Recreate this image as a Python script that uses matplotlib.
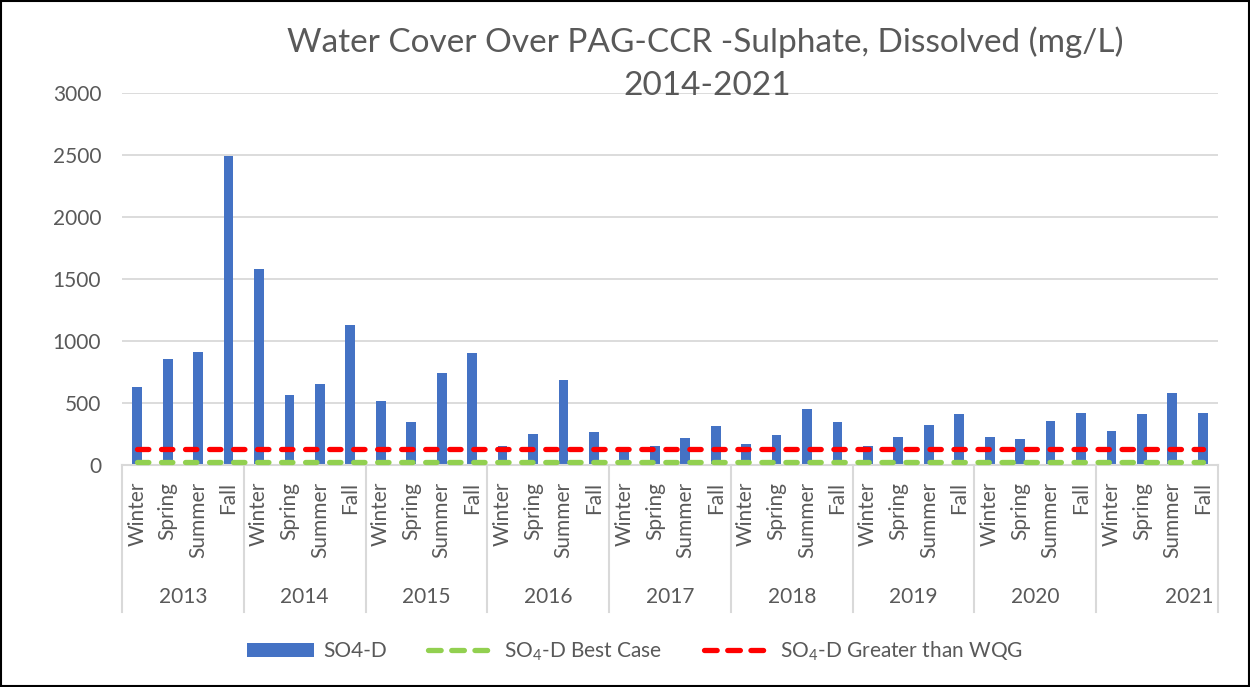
import numpy as np
import matplotlib
matplotlib.use("Agg")
import matplotlib.pyplot as plt
from matplotlib.lines import Line2D
from matplotlib.patches import Patch, Rectangle
import matplotlib.transforms as mtransforms

plt.rcParams['font.family'] = ['Lato', 'DejaVu Sans']
plt.rcParams['mathtext.default'] = 'regular'

years = ['2013', '2014', '2015', '2016', '2017', '2018', '2019', '2020', '2021']
seasons = ['Winter', 'Spring', 'Summer', 'Fall']

# SO4-D dissolved, mg/L (Winter, Spring, Summer, Fall)
so4_2013 = [632, 855, 911, 2490]
so4_2014 = [1580, 565, 651, 1129]
so4_2015 = [516, 344, 742, 903]
so4_2016 = [153, 250, 685, 264]
so4_2017 = [110, 153, 218, 312]
so4_2018 = [169, 242, 449, 344]
so4_2019 = [153, 223, 323, 411]
so4_2020 = [229, 210, 355, 419]
so4_2021 = [271, 411, 583, 417]
so4 = so4_2013 + so4_2014 + so4_2015 + so4_2016 + so4_2017 + so4_2018 + so4_2019 + so4_2020 + so4_2021

best_case = [21] * 36
wqg = [128] * 36

yticks = [0, 500, 1000, 1500, 2000, 2500, 3000]

W, H = 1250, 687
fig = plt.figure(figsize=(W / 100, H / 100), dpi=100)
fig.patch.set_facecolor('white')
fig.add_artist(Rectangle((0.001, 0.001), 0.998, 0.997, transform=fig.transFigure,
                         fill=False, edgecolor='black', linewidth=1.5))

ax = fig.add_axes([122 / W, 1 - 465 / H, (1218 - 122) / W, (465 - 93) / H])
x = np.arange(len(so4))
grey = '#595959'
fs = 15

ax.bar(x, so4, width=0.32, color='#4472C4', zorder=2)
ax.plot(x, best_case, color='#92D050', lw=3.8, dashes=(2.15, 2.4),
        dash_capstyle='round', zorder=3, clip_on=False)
ax.plot(x, wqg, color='#FF0000', lw=3.8, dashes=(2.15, 2.4),
        dash_capstyle='round', zorder=3)

ax.set_xlim(-0.5, len(so4) - 0.5)
ax.set_ylim(0, 3000)
ax.set_yticks(yticks)
ax.set_yticklabels([str(v) for v in yticks], fontsize=fs, color=grey)
ax.tick_params(axis='y', length=0, pad=15)
ax.set_xticks([])
ax.grid(axis='y', color='#d9d9d9', lw=1.3, zorder=0)
for s in ['top', 'right', 'left']:
    ax.spines[s].set_visible(False)
ax.spines['bottom'].set_color('#d9d9d9')
ax.spines['bottom'].set_linewidth(1.5)

trans = mtransforms.blended_transform_factory(ax.transData, ax.transAxes)
for i in range(len(so4)):
    ax.text(x[i], -0.045, seasons[i % 4], rotation=90, ha='center', va='top',
            fontsize=fs, color=grey, transform=trans)
for k in range(len(years) + 1):
    xb = k * 4 - 0.5
    ax.plot([xb, xb], [0, -0.395], transform=trans, color='#d9d9d9', lw=1.5,
            clip_on=False)
for k, yr in enumerate(years):
    xc = k * 4 + 1.5
    if yr == '2021':
        xc = k * 4 + 2.55
    ax.text(xc, -0.355, yr, ha='center', va='center', fontsize=fs,
            color=grey, transform=trans)

fig.text(705 / W, 1 - 42 / H, 'Water Cover Over PAG-CCR -Sulphate, Dissolved (mg/L)',
         ha='center', va='center', fontsize=24, color=grey)
fig.text(707 / W, 1 - 86 / H, '2014-2021', ha='center', va='center',
         fontsize=24, color=grey)

handles = [Patch(facecolor='#4472C4'),
           Line2D([], [], color='#92D050', lw=3.8, dashes=(2.4, 2.0), dash_capstyle='round'),
           Line2D([], [], color='#FF0000', lw=3.8, dashes=(2.4, 2.0), dash_capstyle='round')]
labels = ['SO4-D', 'SO$_4$-D Best Case', 'SO$_4$-D Greater than WQG']
leg = fig.legend(handles, labels, loc='center', bbox_to_anchor=(635 / W, 1 - 651 / H),
                 ncol=3, frameon=False, fontsize=fs, handlelength=3.2,
                 handleheight=0.7, handletextpad=0.45, columnspacing=2.0)
for t in leg.get_texts():
    t.set_color(grey)

fig.savefig('out.png', dpi=100, facecolor='white')
